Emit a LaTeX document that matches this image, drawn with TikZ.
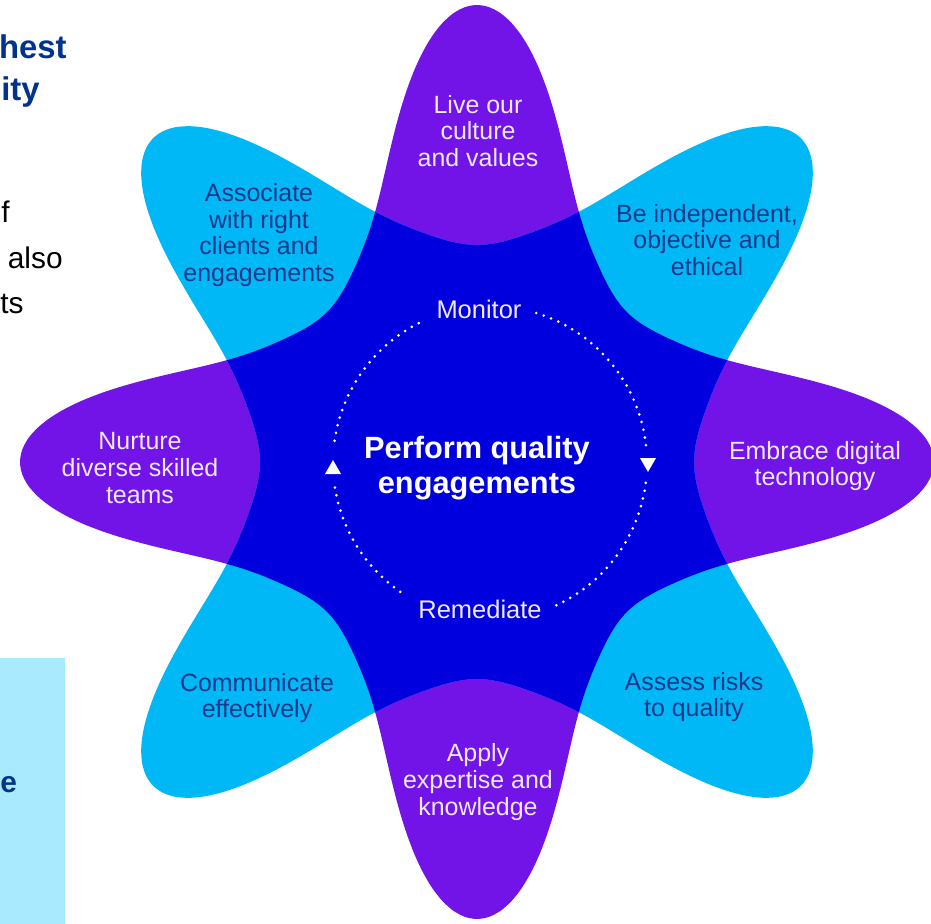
\documentclass[tikz,border=0pt]{standalone}
\usepackage{fontspec}
\setmainfont{Liberation Sans}
\definecolor{petalpurple}{RGB}{114,20,232}
\definecolor{petalcyan}{RGB}{0,184,245}
\definecolor{coreblue}{RGB}{0,0,222}
\definecolor{navytext}{RGB}{24,56,140}
\definecolor{lilactext}{RGB}{240,232,255}
\definecolor{headblue}{RGB}{0,51,141}
\definecolor{paleblue}{RGB}{170,234,255}
\begin{document}
\begin{tikzpicture}[x=0.02cm,y=-0.02cm,
  declare function={pu(\t)=(1+cos(4*\t))/2; qu(\t)=(1-cos(4*\t))/2;
    rp(\t)=212+245*(0.38*pu(\t)+0.62*pu(\t)^4); rc(\t)=217+241*(0.38*qu(\t)+0.62*qu(\t)^4);},
  onpurple/.style={text=lilactext,align=center,font=\fontsize{14.2}{15.3}\selectfont},
  oncyan/.style={text=navytext,align=center,font=\fontsize{14.2}{15.3}\selectfont},
  dotline/.style={white,line width=1.7pt,dash pattern=on 0pt off 4.5pt,line cap=round},
  cut/.style={anchor=base east,inner sep=0pt},
  edge/.style={anchor=base west,inner sep=0pt}]
\useasboundingbox (0,0) rectangle (931,924);
\clip (0,0) rectangle (931,924);
\fill[paleblue] (0,658) rectangle (65,924);
\node[cut,text=headblue,font=\bfseries\fontsize{18.7}{20}\selectfont] (hd1) at (67,58) {hest};
\node[cut,text=headblue,font=\bfseries\fontsize{18.7}{20}\selectfont] (hd2) at (40,100) {ity};
\node[cut,font=\fontsize{17}{20}\selectfont] (tx1) at (10,222) {f};
\node[cut,font=\fontsize{17}{20}\selectfont] (tx2) at (63,268) {also};
\node[edge,font=\fontsize{17}{20}\selectfont] (tx3) at (0,313) {ts};
\node[edge,text=headblue,font=\bfseries\fontsize{17}{20}\selectfont] (hd3) at (0,792) {e};
\fill[petalpurple] plot[domain=0:360,samples=241,smooth] ({477+rp(\x)*cos(\x)},{462+rp(\x)*sin(\x)}) -- cycle;
\fill[petalcyan] plot[domain=0:360,samples=241,smooth] ({477+rc(\x)*cos(\x)},{462+rc(\x)*sin(\x)}) -- cycle;
\begin{scope}
\clip plot[domain=0:360,samples=241,smooth] ({477+rp(\x)*cos(\x)},{462+rp(\x)*sin(\x)}) -- cycle;
\fill[coreblue] plot[domain=0:360,samples=241,smooth] ({477+rc(\x)*cos(\x)},{462+rc(\x)*sin(\x)}) -- cycle;
\end{scope}
\node[onpurple] (live) at (478,131) {Live our\\culture\\and values};
\node[oncyan] (indep) at (707,240) {Be independent,\\objective and\\ethical};
\node[onpurple] (digital) at (815,466) {Embrace digital\\technology};
\node[oncyan] (risks) at (694,697) {Assess risks\\to quality};
\node[onpurple] (expert) at (478,782) {Apply\\expertise and\\knowledge};
\node[oncyan] (talk) at (257,698) {Communicate\\effectively};
\node[onpurple] (teams) at (140,468) {Nurture\\diverse skilled\\teams};
\node[oncyan] (assoc) at (259,235) {Associate\\with right\\clients and\\engagements};
\node[text=white,align=center,font=\bfseries\fontsize{17.5}{19.8}\selectfont] (core) at (477,468) {Perform quality\\engagements};
\coordinate (cyc) at (490,463);
\node[text=lilactext,font=\fontsize{14.5}{16}\selectfont] (mon) at (479,309) {Monitor};
\node[text=lilactext,font=\fontsize{14.5}{16}\selectfont] (rem) at (480,609) {Remediate};
\draw[dotline] (cyc) ++(-117:157) arc[start angle=-117,end angle=-172,radius=157];
\draw[dotline] (cyc) ++(-189:157) arc[start angle=-189,end angle=-236,radius=157];
\draw[dotline] (cyc) ++(-295:157) arc[start angle=-295,end angle=-353,radius=157];
\draw[dotline] (cyc) ++(-6.5:157) arc[start angle=-6.5,end angle=-74,radius=157];
\coordinate (up) at (333,467);
\coordinate (down) at (648,465);
\fill[white] (up) ++(-8,7) -- ++(16,0) -- ++(-8,-14) -- cycle;
\fill[white] (down) ++(-8,-7) -- ++(16,0) -- ++(-8,14) -- cycle;
\end{tikzpicture}
\end{document}
